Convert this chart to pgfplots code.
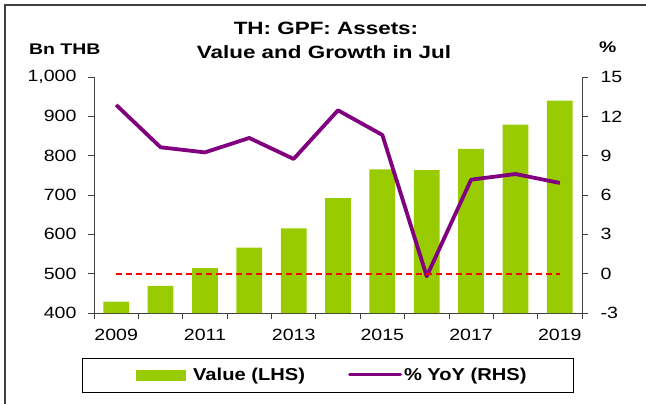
\documentclass[border=0pt]{standalone}
\usepackage{fontspec}
\setmainfont{Liberation Sans}
\newfontfamily\wide[FakeStretch=1.2]{Liberation Sans}
\newfontfamily\lwide[FakeStretch=1.17]{Liberation Sans}
\newfontfamily\twide[FakeStretch=1.26]{Liberation Sans}
\usepackage{pgfplots}
\pgfplotsset{compat=1.18}
\definecolor{barg}{HTML}{99CC00}
\definecolor{lpurp}{HTML}{800080}
\definecolor{axgray}{HTML}{404040}
\begin{document}
\begin{tikzpicture}
\path[use as bounding box] (0pt,0pt) rectangle (646pt,-404pt);
\draw[axgray, line width=1.2pt] (5pt,-404pt) -- (5pt,-5pt) -- (646pt,-5pt);
\node[anchor=base, inner sep=0pt, font=\twide\bfseries\fontsize{17.8}{21}\selectfont] at (326pt,-35pt) {TH: GPF: Assets:};
\node[anchor=base, inner sep=0pt, font=\twide\bfseries\fontsize{17.8}{21}\selectfont] at (324pt,-59pt) {Value and Growth in Jul};
\node[anchor=base west, inner sep=0pt, font=\twide\bfseries\fontsize{15.4}{18}\selectfont] at (29pt,-55pt) {Bn THB};
\node[anchor=base west, inner sep=0pt, font=\twide\bfseries\fontsize{15.4}{18}\selectfont] at (599pt,-53pt) {\%};
\pgfplotsset{
  common/.style={
    scale only axis, width=488pt, height=236pt,
    at={(94pt,-313pt)}, anchor=south west,
    xmin=-0.5, xmax=10.5, enlargelimits=false,
    tick align=outside, major tick length=6pt, minor tick length=6pt,
    axis line style={axgray, line width=0.8pt},
    every tick/.style={axgray, line width=0.8pt},
    /pgf/number format/assume math mode=true,
    ticklabel style={font=\wide\fontsize{16.3}{19}\selectfont},
  }
}
\begin{axis}[common,
  axis y line*=left, axis x line*=bottom,
  ymin=400, ymax=1000, ytick={400,500,...,1000},
  /pgf/number format/1000 sep={,},
  yticklabel style={xshift=-8pt},
  xtick={0,2,...,10}, xticklabels={2009,2011,2013,2015,2017,2019},
  xticklabel style={yshift=-7pt},
  major x tick style={draw=none},
  minor xtick={-0.5,0.5,...,10.5},
]
\addplot[ybar, fill=barg, draw=none, bar width=0.58] coordinates {
(0,429) (1,469) (2,514) (3,566) (4,615) (5,692) (6,765) (7,763) (8,817) (9,879) (10,940)};
\end{axis}
\begin{axis}[common,
  axis y line*=right, axis x line=none,
  ymin=-3, ymax=15, ytick={-3,0,...,15},
  yticklabel style={xshift=9pt},
  legend columns=2,
  legend style={at={(0.4795,-0.2627)}, anchor=center, draw=black, line width=0.8pt,
    inner xsep=45pt, inner ysep=8pt,
    font=\lwide\bfseries\fontsize{17.2}{20}\selectfont,
    /tikz/every even column/.append style={column sep=41pt}},
]
\addlegendimage{legend image code/.code={\path (-9pt,0pt) (54pt,0pt); \fill[barg] (0pt,-5pt) rectangle (49pt,5pt);}}
\addlegendentry{Value (LHS)}
\addplot[lpurp, line width=3.8pt, line join=round,
  legend image code/.code={\draw[lpurp, line width=3pt, line cap=round] (0pt,0pt) -- (51pt,0pt);}] coordinates {
(0,12.87) (1,9.64) (2,9.25) (3,10.35) (4,8.75) (5,12.46) (6,10.58) (7,-0.2) (8,7.17) (9,7.6) (10,6.92)};
\addlegendentry{\% YoY (RHS)}
\addplot[red, line width=1.8pt, dash pattern=on 6pt off 4pt, forget plot] coordinates {(0,0) (10,0)};
\end{axis}
\end{tikzpicture}
\end{document}
